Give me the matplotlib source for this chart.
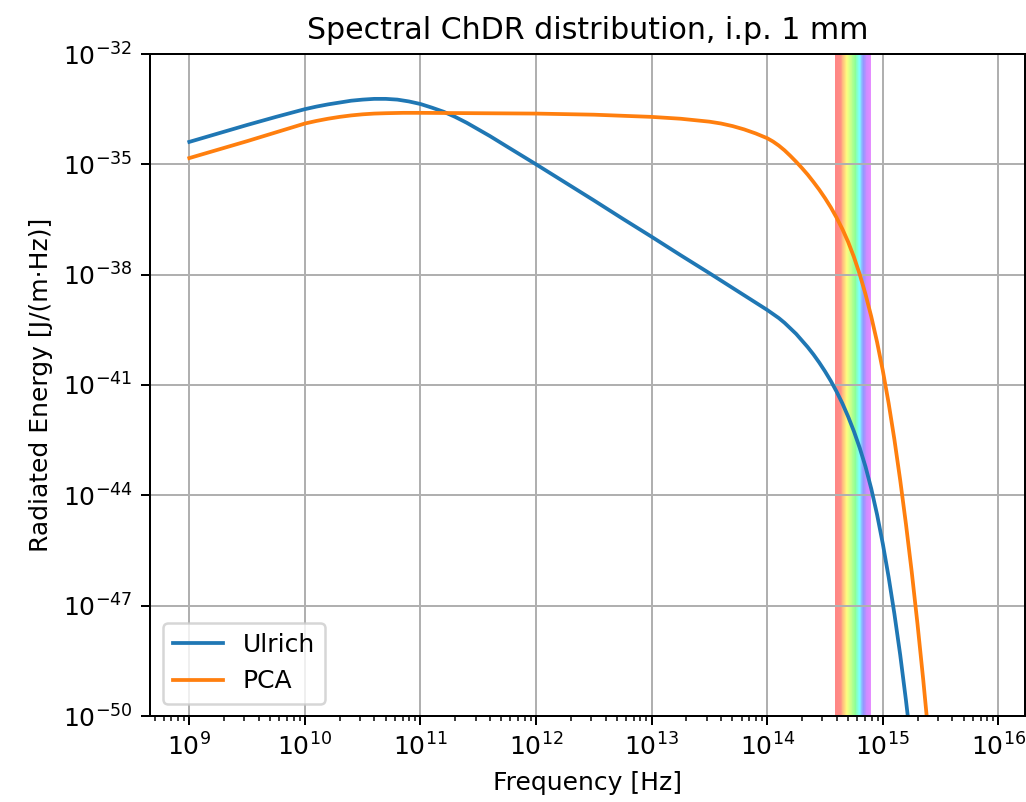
import numpy as np
from matplotlib import pyplot as plt
from matplotlib import ticker
from matplotlib.colors import LinearSegmentedColormap

# log10 of frequency [Hz] and log10 of radiated energy [J/(m*Hz)]
ulrich_logf = [9.0, 9.25, 9.5, 9.75, 10.0, 10.1, 10.2, 10.3, 10.4, 10.5, 10.6, 10.7, 10.8,
               10.9, 11.0, 11.1, 11.2, 11.3, 11.4, 11.5, 11.6, 11.75, 12.0, 12.25, 12.5,
               12.75, 13.0, 13.25, 13.5, 13.75, 14.0, 14.05, 14.1, 14.15, 14.2, 14.25, 14.3,
               14.35, 14.4, 14.45, 14.5, 14.55, 14.6, 14.65, 14.7, 14.75, 14.8, 14.85, 14.9,
               14.95, 15.0, 15.05, 15.1, 15.15, 15.2, 15.25]
ulrich_logE = [-34.39, -34.16, -33.93, -33.71, -33.50, -33.43, -33.37, -33.32, -33.27,
               -33.24, -33.22, -33.22, -33.24, -33.29, -33.36, -33.46, -33.57, -33.71,
               -33.87, -34.05, -34.23, -34.52, -35.00, -35.49, -35.98, -36.48, -36.97,
               -37.47, -37.96, -38.46, -38.96, -39.07, -39.18, -39.31, -39.46, -39.61,
               -39.79, -39.97, -40.17, -40.39, -40.63, -40.89, -41.18, -41.50, -41.86,
               -42.26, -42.71, -43.22, -43.82, -44.52, -45.32, -46.22, -47.22, -48.33,
               -49.57, -50.93]

pca_logf = [9.0, 9.25, 9.5, 9.75, 10.0, 10.1, 10.2, 10.3, 10.4, 10.5, 10.6, 10.7, 10.85,
            11.0, 11.5, 12.0, 12.5, 13.0, 13.25, 13.5, 13.6, 13.7, 13.8, 13.9, 14.0, 14.05,
            14.1, 14.15, 14.2, 14.25, 14.3, 14.35, 14.4, 14.45, 14.5, 14.55, 14.6, 14.65,
            14.7, 14.75, 14.8, 14.85, 14.9, 14.95, 15.0, 15.05, 15.1, 15.15, 15.2, 15.25,
            15.3, 15.35, 15.4]
pca_logE = [-34.83, -34.60, -34.37, -34.13, -33.89, -33.82, -33.76, -33.71, -33.67, -33.64,
            -33.62, -33.61, -33.60, -33.60, -33.61, -33.62, -33.65, -33.71, -33.76, -33.84,
            -33.89, -33.96, -34.05, -34.16, -34.29, -34.38, -34.49, -34.62, -34.77, -34.93,
            -35.10, -35.28, -35.48, -35.69, -35.92, -36.17, -36.45, -36.76, -37.11, -37.52,
            -37.99, -38.53, -39.14, -39.83, -40.61, -41.49, -42.48, -43.58, -44.78, -46.08,
            -47.50, -49.03, -50.68]

# visible range in wavelength [nm]
vis_red_nm = 780.0
vis_violet_nm = 380.0
c = 2.998e8

fig = plt.figure(figsize=(1026 / 180, 802 / 180), dpi=180)
ax = fig.add_axes([150 / 1026, 86 / 802, 875 / 1026, 662 / 802])

# rainbow band for visible light
spectrum = LinearSegmentedColormap.from_list('spectrum', [
    (0.0, (1.0, 0.05, 0.05)), (0.15, (1.0, 0.1, 0.05)), (0.24, (1.0, 0.55, 0.0)),
    (0.33, (1.0, 1.0, 0.0)), (0.45, (0.55, 1.0, 0.1)), (0.57, (0.1, 1.0, 0.2)),
    (0.68, (0.0, 1.0, 1.0)), (0.79, (0.15, 0.2, 1.0)), (0.88, (0.6, 0.1, 1.0)),
    (1.0, (0.8, 0.1, 1.0))])
n_band = 80
f_edges = np.logspace(np.log10(c / (vis_red_nm * 1e-9)), np.log10(c / (vis_violet_nm * 1e-9)),
                      n_band + 1)
for i in range(n_band):
    ax.axvspan(f_edges[i], f_edges[i + 1], color=spectrum((i + 0.5) / n_band), alpha=0.5,
               lw=0, zorder=1)

ax.plot(10 ** np.array(ulrich_logf), 10 ** np.array(ulrich_logE), label='Ulrich')
ax.plot(10 ** np.array(pca_logf), 10 ** np.array(pca_logE), label='PCA')

ax.set_xscale('log')
ax.set_yscale('log')
ax.set_xlim(10 ** 8.66, 10 ** 16.23)
ax.set_ylim(1e-50, 1e-32)
ax.xaxis.set_major_locator(ticker.LogLocator(base=10, numticks=20))
ax.xaxis.set_minor_locator(ticker.LogLocator(base=10, subs=np.arange(2, 10), numticks=100))
ax.xaxis.set_minor_formatter(ticker.NullFormatter())
ax.yaxis.set_major_locator(ticker.FixedLocator(10.0 ** np.arange(-50, -31, 3)))
ax.yaxis.set_minor_locator(ticker.NullLocator())

ax.grid(True)
ax.set_title('Spectral ChDR distribution, i.p. 1 mm')
ax.set_xlabel('Frequency [Hz]')
ax.set_ylabel('Radiated Energy [J/(m·Hz)]')
ax.legend(loc='lower left')

fig.savefig('out.png', dpi=180)
